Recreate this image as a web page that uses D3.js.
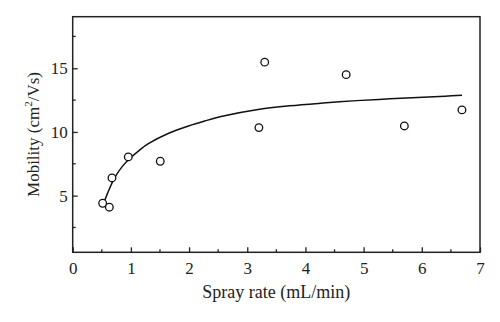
<!DOCTYPE html>
<html><head><meta charset="utf-8">
<script src="https://cdn.jsdelivr.net/npm/d3@7/dist/d3.min.js"></script>
<style>body{margin:0;background:#fff}svg{display:block}</style>
</head><body>
<script>
// Measured data points
const sprayRate = [0.515, 0.63, 0.675, 0.955, 1.505, 3.20, 3.30, 4.70, 5.70, 6.69];
const mobility  = [4.40, 4.09, 6.39, 8.04, 7.70, 10.34, 15.48, 14.50, 10.47, 11.73];
// Fitted curve
const fitX = [0.543, 0.6, 0.727, 0.85, 0.985, 1.15, 1.30, 1.64, 1.99, 2.27, 2.59, 3.16, 3.73, 4.30, 4.88, 5.45, 6.02, 6.40, 6.69];
const fitY = [4.53, 5.20, 6.45, 7.28, 7.94, 8.58, 9.08, 9.88, 10.47, 10.86, 11.25, 11.74, 12.05, 12.27, 12.46, 12.60, 12.73, 12.81, 12.89];
const xTicks = [0,1,2,3,4,5,6,7];
const xMinor = [0.5,1.5,2.5,3.5,4.5,5.5,6.5];
const yTicks = [5,10,15];
const yMinor = [2.5,7.5,12.5,17.5];

const W = 500, H = 322;
const L = 72.7, R = 480, T = 16.7, B = 252.3;
const svg = d3.select("body").append("svg").attr("width", W).attr("height", H);
const x = d3.scaleLinear().domain([0,7]).range([L,R]);
const y = d3.scaleLinear().domain([0.55,19.05]).range([B,T]);
const font = "'Liberation Serif', 'DejaVu Serif', serif";

// frame
svg.append("rect").attr("x",L).attr("y",T).attr("width",R-L).attr("height",B-T)
  .attr("fill","none").attr("stroke","#222").attr("stroke-width",1.5);

// x axis
const xa = svg.append("g").attr("transform",`translate(0,${B})`)
  .call(d3.axisBottom(x).tickValues(xTicks).tickFormat(d3.format("d")).tickSizeInner(-5).tickSizeOuter(0).tickPadding(10));
xa.select(".domain").remove();
xa.selectAll("line").attr("stroke","#222").attr("stroke-width",1.3);
xa.selectAll("text").attr("font-family",font).attr("font-size",17).attr("fill","#222");
svg.append("g").selectAll("line").data(xMinor).join("line")
  .attr("x1",d=>x(d)).attr("x2",d=>x(d)).attr("y1",B).attr("y2",B-3)
  .attr("stroke","#222").attr("stroke-width",1.3);

// y axis
const ya = svg.append("g").attr("transform",`translate(${L},0)`)
  .call(d3.axisLeft(y).tickValues(yTicks).tickFormat(d3.format("d")).tickSizeInner(-5).tickSizeOuter(0).tickPadding(5));
ya.select(".domain").remove();
ya.selectAll("line").attr("stroke","#222").attr("stroke-width",1.3);
ya.selectAll("text").attr("font-family",font).attr("font-size",17).attr("fill","#222");
svg.append("g").selectAll("line").data(yMinor).join("line")
  .attr("y1",d=>y(d)).attr("y2",d=>y(d)).attr("x1",L).attr("x2",L+3)
  .attr("stroke","#222").attr("stroke-width",1.3);

// fit curve
const line = d3.line().x(d=>x(d[0])).y(d=>y(d[1])).curve(d3.curveCatmullRom.alpha(0.5));
svg.append("path").datum(fitX.map((v,i)=>[v,fitY[i]])).attr("d",line)
  .attr("fill","none").attr("stroke","#111").attr("stroke-width",1.5);

// points
svg.append("g").selectAll("circle").data(sprayRate.map((v,i)=>[v,mobility[i]])).join("circle")
  .attr("cx",d=>x(d[0])).attr("cy",d=>y(d[1])).attr("r",3.8)
  .attr("fill","#fff").attr("stroke","#111").attr("stroke-width",1.3);

// titles
svg.append("text").attr("x",(L+R)/2).attr("y",298).attr("text-anchor","middle")
  .attr("font-family",font).attr("font-size",18).attr("fill","#222").text("Spray rate (mL/min)");
const yt = svg.append("text").attr("transform",`translate(39,${(T+B)/2+0}) rotate(-90)`)
  .attr("text-anchor","middle").attr("font-family",font).attr("font-size",17).attr("fill","#222");
yt.append("tspan").text("Mobility (cm");
yt.append("tspan").attr("font-size",11).attr("dy",-7).text("2");
yt.append("tspan").attr("dy",7).text("/Vs)");
</script>
</body></html>
